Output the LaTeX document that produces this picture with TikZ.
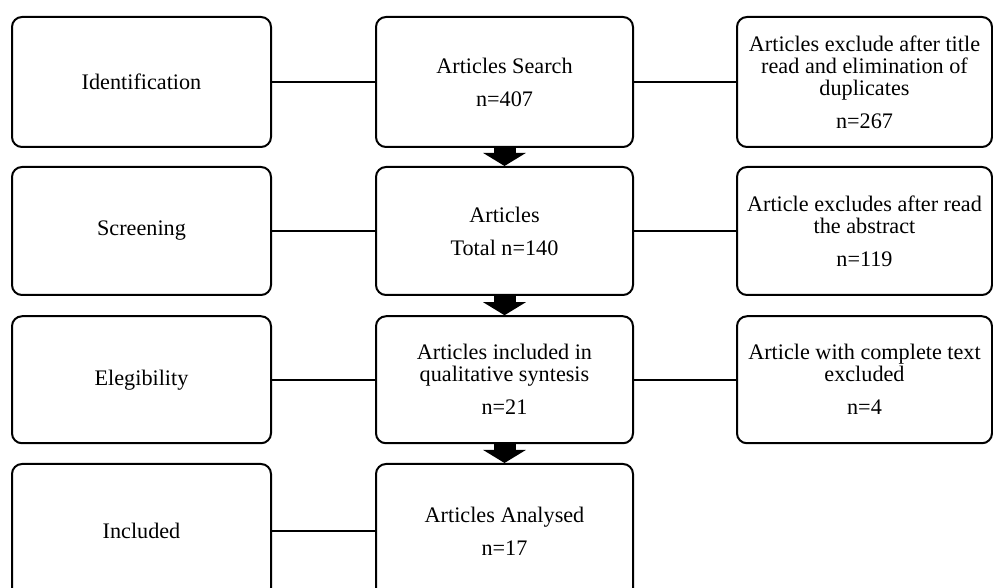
\documentclass[tikz,border=0pt]{standalone}
\usepackage{fontspec}
\setmainfont{Liberation Serif}
\usetikzlibrary{arrows.meta}
\begin{document}
\begin{tikzpicture}[x=0.5pt,y=-0.5pt,
  box/.style={draw, line width=1pt, rounded corners=5pt, align=center,
    minimum width=#1, inner sep=0pt, font=\fontsize{11.1}{11}\selectfont},
  conn/.style={line width=0.8pt},
  blockarrow/.style={line width=11pt, -{Triangle[width=21pt,length=6.5pt]}}]
\useasboundingbox (0,0) rectangle (993,588);
% left column
\node[box=129.5pt, minimum height=65pt] (l1) at (141.5,82) {Identification};
\node[box=129.5pt, minimum height=64pt] (l2) at (141.5,231) {Screening};
\node[box=129.5pt, minimum height=63.5pt] (l3) at (141.5,379.75) {Elegibility};
\node[box=129.5pt, minimum height=67pt] (l4) at (141.5,531) {Included};
% middle column
\node[box=128.5pt, minimum height=65pt] (m1) at (504.5,82) {Articles Search\\[5.5pt]n=407};
\node[box=128.5pt, minimum height=64pt] (m2) at (504.5,231) {Articles\\[5.5pt]Total n=140};
\node[box=128.5pt, minimum height=63.5pt] (m3) at (504.5,379.75) {Articles included in\\qualitative syntesis\\[5.5pt]n=21};
\node[box=128.5pt, minimum height=67pt] (m4) at (504.5,531) {Articles Analysed\\[5.5pt]n=17};
% right column
\node[box=127.5pt, minimum height=65pt] (r1) at (864.5,82) {Articles exclude after title\\read and elimination of\\duplicates\\[5.5pt]n=267};
\node[box=127.5pt, minimum height=64pt] (r2) at (864.5,231) {Article excludes after read\\the abstract\\[5.5pt]n=119};
\node[box=127.5pt, minimum height=63.5pt] (r3) at (864.5,379.75) {Article with complete text\\excluded\\[5.5pt]n=4};
% connectors
\draw[conn] (l1) -- (m1); \draw[conn] (m1) -- (r1);
\draw[conn] (l2) -- (m2); \draw[conn] (m2) -- (r2);
\draw[conn] (l3) -- (m3); \draw[conn] (m3) -- (r3);
\draw[conn] (l4) -- (m4);
% block arrows
\draw[blockarrow] (m1.south) -- (m2.north);
\draw[blockarrow] (m2.south) -- (m3.north);
\draw[blockarrow] (m3.south) -- (m4.north);
\end{tikzpicture}
\end{document}
